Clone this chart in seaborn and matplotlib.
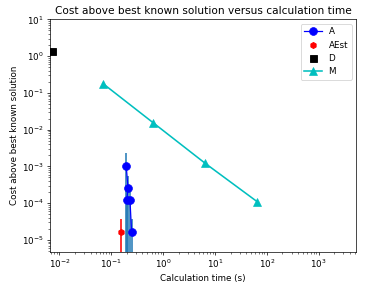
import numpy as np
import pandas as pd
import matplotlib
matplotlib.use("Agg")
import matplotlib.pyplot as plt
import seaborn as sns

# values
a_time = [0.195, 0.21, 0.20, 0.23, 0.247]
a_cost = [1.0e-3, 2.6e-4, 1.2e-4, 1.2e-4, 1.6e-5]
a_err = [1.3e-3, 3.0e-4, 1.6e-4, 1.5e-4, 2.0e-5]

aest_time = [0.157]
aest_cost = [1.6e-5]
aest_err = [2.1e-5]

d_time = [0.0072]
d_cost = [1.4]

m_time = [0.069, 0.64, 6.4, 65]
m_cost = [0.18, 0.0155, 0.00123, 1.1e-4]

plt.rcParams['font.family'] = ['DejaVu Sans']
DPI = 63
fig, ax = plt.subplots(figsize=(365 / DPI, 285 / DPI), dpi=DPI)

# error bars first (no legend entries)
ax.errorbar(a_time, a_cost, yerr=a_err, fmt='none', ecolor='C0', elinewidth=2.2, alpha=0.8)
ax.errorbar(aest_time, aest_cost, yerr=aest_err, fmt='none', ecolor='red', elinewidth=1.8)

df_a = pd.DataFrame({'t': a_time, 'c': a_cost})
sns.lineplot(data=df_a, x='t', y='c', sort=False, estimator=None, color='blue',
             marker='o', markersize=9, markeredgecolor='blue', linewidth=1.4, label='A', ax=ax)
ax.plot(aest_time, aest_cost, linestyle='none', marker='h', color='red', markersize=7, label='AEst')
ax.plot(d_time, d_cost, linestyle='none', marker='s', color='black', markersize=8, label='D')
df_m = pd.DataFrame({'t': m_time, 'c': m_cost})
sns.lineplot(data=df_m, x='t', y='c', sort=False, estimator=None, color='c',
             marker='^', markersize=9, markeredgecolor='c', linewidth=1.8, label='M', ax=ax)

ax.set_xscale('log')
ax.set_yscale('log')
ax.set_xlim(0.0066, 5200)
ax.set_ylim(4.8e-6, 10)

ax.set_title('Cost above best known solution versus calculation time', fontsize=12)
ax.set_xlabel('Calculation time (s)', fontsize=10)
ax.set_ylabel('Cost above best known solution', fontsize=10)
ax.tick_params(labelsize=10)
ax.legend(loc='upper right', fontsize=10)

fig.subplots_adjust(left=0.137, right=0.975, bottom=0.117, top=0.932)
fig.savefig('out.png', dpi=DPI)
